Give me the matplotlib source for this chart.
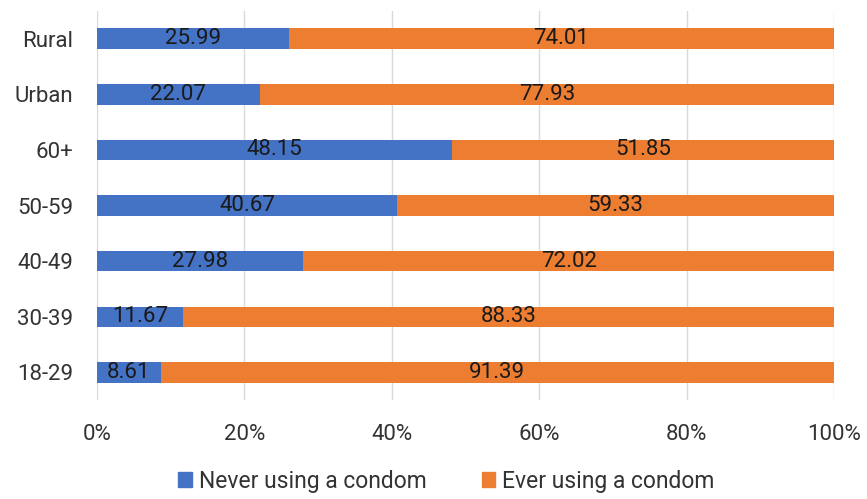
import matplotlib
matplotlib.use("Agg")
import matplotlib.pyplot as plt
from matplotlib.patches import Patch

categories = ["18-29", "30-39", "40-49", "50-59", "60+", "Urban", "Rural"]
never_use = [8.61, 11.67, 27.98, 40.67, 48.15, 22.07, 25.99]
ever_use = [91.39, 88.33, 72.02, 59.33, 51.85, 77.93, 74.01]
series_names = ["Never using a condom", "Ever using a condom"]
xtick_values = [0, 20, 40, 60, 80, 100]

blue = "#4472C4"
orange = "#ED7D31"
text_color = "#1a1a1a"
tick_color = "#333333"

plt.rcParams["font.family"] = ["Roboto", "DejaVu Sans"]

fig = plt.figure(figsize=(8.67, 4.99), dpi=100)
ax = fig.add_axes([0.112, 0.198, 0.850, 0.780])

y = range(len(categories))
bar_h = 0.37
b1 = ax.barh(y, never_use, height=bar_h, color=blue, label=series_names[0])
b2 = ax.barh(y, ever_use, left=never_use, height=bar_h, color=orange, label=series_names[1])

for bars, vals in ((b1, never_use), (b2, ever_use)):
    ax.bar_label(bars, labels=[f"{v:.2f}" for v in vals], label_type="center",
                 fontsize=16, color=text_color)

ax.set_xlim(0, 100)
ax.set_ylim(-0.5, len(categories) - 0.5)
ax.set_xticks(xtick_values)
ax.set_xticklabels([f"{v}%" for v in xtick_values])
ax.set_yticks(list(y))
ax.set_yticklabels(categories)
ax.tick_params(axis="both", length=0, labelsize=16, colors=tick_color)
ax.tick_params(axis="x", pad=17)
ax.tick_params(axis="y", pad=17)
ax.xaxis.grid(True, color="#d9d9d9", linewidth=1)
ax.set_axisbelow(True)
for s in ax.spines.values():
    s.set_visible(False)

handles = [Patch(color=blue), Patch(color=orange)]
fig.legend(handles, series_names, loc="center", bbox_to_anchor=(0.515, 0.036),
           ncol=2, frameon=False, fontsize=16.5, handlelength=0.6, handleheight=0.6,
           handletextpad=0.3, columnspacing=2.4, labelcolor=tick_color)

fig.savefig("out.png", dpi=100)
